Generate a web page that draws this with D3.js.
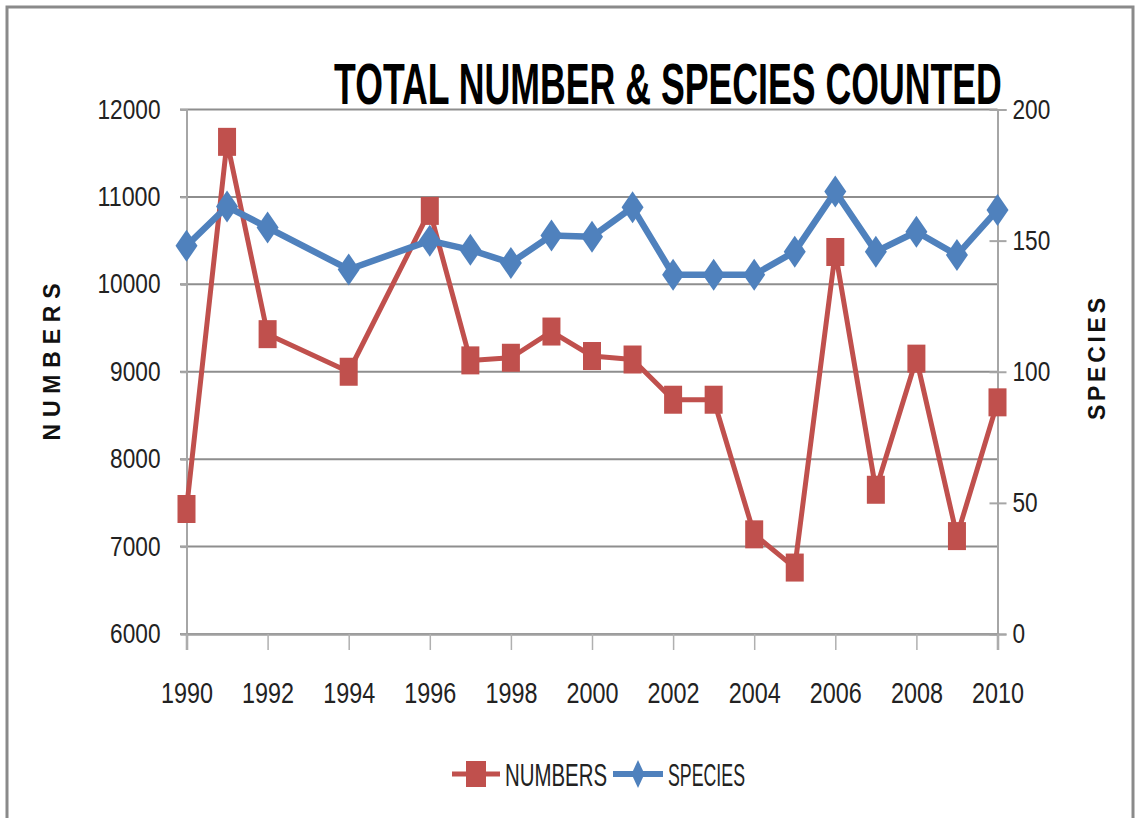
<!DOCTYPE html>
<html>
<head>
<meta charset="utf-8">
<script src="https://cdn.jsdelivr.net/npm/d3@7"></script>
<style>
  html, body { margin: 0; padding: 0; background: #ffffff; }
  svg { display: block; }
</style>
</head>
<body>
<script>
// ---- data ----
const years   = [1990, 1991, 1992, 1994, 1996, 1997, 1998, 1999, 2000, 2001, 2002, 2003, 2004, 2005, 2006, 2007, 2008, 2009, 2010];
const numbers = [7430, 11630, 9430, 9000, 10840, 9130, 9160, 9460, 9180, 9140, 8680, 8680, 7140, 6760, 10370, 7650, 9150, 7120, 8650];
const species = [148, 163, 155, 139, 150, 146.5, 141.5, 152, 151.5, 162.7, 137, 137, 137, 145.8, 168.7, 145.8, 153.4, 144.5, 161.7];
const leftTicks  = [6000, 7000, 8000, 9000, 10000, 11000, 12000];
const rightTicks = [0, 50, 100, 150, 200];
const yearTicks  = [1990, 1992, 1994, 1996, 1998, 2000, 2002, 2004, 2006, 2008, 2010];
const titleText = "TOTAL NUMBER & SPECIES COUNTED";
const seriesNames = ["NUMBERS", "SPECIES"];

const W = 1140, H = 818;
const FONT = '"Liberation Sans Narrow", "Liberation Sans", Arial, sans-serif';
const RED = "#C0504D", BLUE = "#4F81BD";

const svg = d3.select("body").append("svg").attr("width", W).attr("height", H);
svg.append("rect").attr("width", W).attr("height", H).attr("fill", "#fff");

// outer frame
svg.append("rect").attr("x", 7).attr("y", 7).attr("width", 1126).attr("height", 830)
  .attr("fill", "none").attr("stroke", "#8a8a8a").attr("stroke-width", 3);

const x  = d3.scaleLinear().domain([1990, 2010]).range([186.5, 997.5]);
const yL = d3.scaleLinear().domain([6000, 12000]).range([634, 109.5]);
const yR = d3.scaleLinear().domain([0, 200]).range([634, 109.5]);

// gridlines
svg.append("g").selectAll("line").data(leftTicks).join("line")
  .attr("x1", 180).attr("x2", x(2010)).attr("y1", d => yL(d)).attr("y2", d => yL(d))
  .attr("stroke", "#8e8e8e").attr("stroke-width", 2);

function squeeze(sel, perChar) {
  sel.each(function() {
    const t = d3.select(this);
    const n = t.text().length;
    t.attr("textLength", n * perChar).attr("lengthAdjust", "spacingAndGlyphs");
  });
}

// left axis
const gL = svg.append("g").attr("transform", `translate(${x(1990)},0)`)
  .call(d3.axisLeft(yL).tickValues(leftTicks).tickSize(6).tickPadding(20).tickFormat(d3.format("d")));
gL.select(".domain").attr("stroke", "#a6a6a6").attr("stroke-width", 2);
gL.selectAll(".tick line").attr("stroke", "#a6a6a6").attr("stroke-width", 2);
gL.selectAll(".tick text").attr("font-family", FONT).attr("font-size", 27).attr("fill", "#222")
  .call(squeeze, 12.6);

// right axis
const gR = svg.append("g").attr("transform", `translate(${x(2010)},0)`)
  .call(d3.axisRight(yR).tickValues(rightTicks).tickSize(9).tickPadding(6));
gR.select(".domain").attr("stroke", "#a6a6a6").attr("stroke-width", 2);
gR.selectAll(".tick line").attr("x1", -8).attr("stroke", "#a6a6a6").attr("stroke-width", 2);
gR.selectAll(".tick text").attr("font-family", FONT).attr("font-size", 27).attr("fill", "#222")
  .call(squeeze, 12.6);

// bottom axis
const gB = svg.append("g").attr("transform", `translate(0,${yL(6000)})`)
  .call(d3.axisBottom(x).tickValues(yearTicks).tickSize(16).tickPadding(32).tickFormat(d3.format("d")));
gB.select(".domain").attr("stroke", "#a0a0a0").attr("stroke-width", 2.5);
gB.selectAll(".tick line").attr("stroke", "#b0b0b0").attr("stroke-width", 1.5);
gB.selectAll(".tick text").attr("font-family", FONT).attr("font-size", 29).attr("fill", "#222")
  .call(squeeze, 13);

// series: numbers (red)
const numData = years.map((yr, i) => ({ yr, v: numbers[i] }));
const spData  = years.map((yr, i) => ({ yr, v: species[i] }));

svg.append("path").datum(numData)
  .attr("d", d3.line().x(d => x(d.yr)).y(d => yL(d.v)))
  .attr("fill", "none").attr("stroke", RED).attr("stroke-width", 5).attr("stroke-linejoin", "round");
svg.append("g").selectAll("rect").data(numData).join("rect")
  .attr("x", d => x(d.yr) - 9).attr("y", d => yL(d.v) - 14)
  .attr("width", 18).attr("height", 28).attr("fill", RED);

// series: species (blue)
const diamond = (w, h) => `M0,${-h/2}L${w/2},0L0,${h/2}L${-w/2},0Z`;
svg.append("path").datum(spData)
  .attr("d", d3.line().x(d => x(d.yr)).y(d => yR(d.v)))
  .attr("fill", "none").attr("stroke", BLUE).attr("stroke-width", 6.5).attr("stroke-linejoin", "round");
svg.append("g").selectAll("path").data(spData).join("path")
  .attr("transform", d => `translate(${x(d.yr)},${yR(d.v)})`)
  .attr("d", diamond(22, 32)).attr("fill", BLUE);

// title (horizontally scaled to fit)
const titleG = svg.append("g");
const titleT = titleG.append("text").attr("x", 0).attr("y", 0)
  .attr("font-family", FONT).attr("font-weight", "bold").attr("font-size", 57).attr("fill", "#000")
  .text(titleText);
const tw = titleT.node().getComputedTextLength();
titleG.attr("transform", `translate(334,104) scale(${668 / tw},1)`);

// axis titles
svg.append("text").attr("transform", "translate(60,362) rotate(-90)")
  .attr("text-anchor", "middle").attr("font-family", '"Liberation Sans", Arial, sans-serif')
  .attr("font-weight", "bold").attr("font-size", 23).attr("fill", "#111")
  .attr("textLength", 157).attr("lengthAdjust", "spacing")
  .text(seriesNames[0]);
svg.append("text").attr("transform", "translate(1105,359) rotate(-90)")
  .attr("text-anchor", "middle").attr("font-family", '"Liberation Sans", Arial, sans-serif')
  .attr("font-weight", "bold").attr("font-size", 23).attr("fill", "#111")
  .attr("textLength", 122).attr("lengthAdjust", "spacing")
  .text(seriesNames[1]);

// legend
const lg = svg.append("g");
const ly = 774;
lg.append("line").attr("x1", 452).attr("x2", 500).attr("y1", ly).attr("y2", ly)
  .attr("stroke", RED).attr("stroke-width", 5);
lg.append("rect").attr("x", 466).attr("y", ly - 13).attr("width", 20).attr("height", 26).attr("fill", RED);
lg.append("text").attr("x", 505).attr("y", ly + 12)
  .attr("font-family", FONT).attr("font-size", 32).attr("fill", "#222")
  .attr("textLength", 102).attr("lengthAdjust", "spacingAndGlyphs").text(seriesNames[0]);
lg.append("line").attr("x1", 613).attr("x2", 663).attr("y1", ly).attr("y2", ly)
  .attr("stroke", BLUE).attr("stroke-width", 6);
lg.append("path").attr("transform", `translate(638,${ly})`).attr("d", diamond(13, 28)).attr("fill", BLUE);
lg.append("text").attr("x", 668).attr("y", ly + 12)
  .attr("font-family", FONT).attr("font-size", 32).attr("fill", "#222")
  .attr("textLength", 77).attr("lengthAdjust", "spacingAndGlyphs").text(seriesNames[1]);
</script>
</body>
</html>
